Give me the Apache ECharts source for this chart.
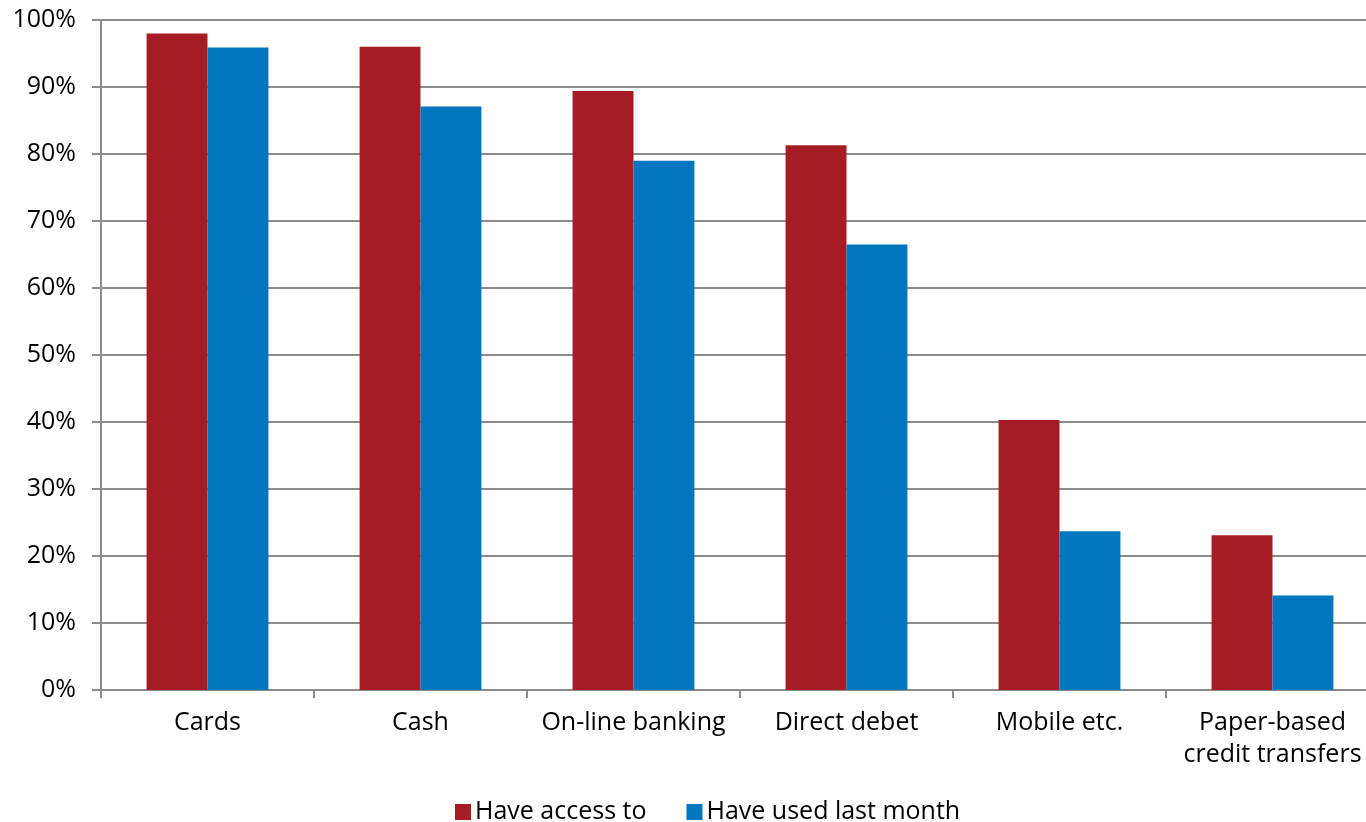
<!DOCTYPE html>
<html><head><meta charset="utf-8">
<script src="https://cdn.jsdelivr.net/npm/echarts@6/dist/echarts.min.js"></script>
<style>html,body{margin:0;padding:0;background:#fff}#c{width:1366px;height:822px}</style>
</head><body><div id="c"></div>
<script>
const categories = ['Cards', 'Cash', 'On-line banking', 'Direct debet', 'Mobile etc.', 'Paper-based\ncredit transfers'];
const haveAccess = [98, 96, 89.4, 81.3, 40.3, 23.1];
const usedLastMonth = [95.9, 87.1, 79, 66.5, 23.7, 14.1];
const seriesNames = ['Have access to', 'Have used last month'];
const FONT = '"Open Sans", "Noto Sans", sans-serif';
const chart = echarts.init(document.getElementById('c'));
chart.setOption({
  animation: false,
  textStyle: { fontFamily: FONT },
  grid: { left: 101, width: 1278, top: 20, height: 670, containLabel: false, outerBoundsMode: 'none' },
  legend: {
    top: 793, left: 450, itemWidth: 16, itemHeight: 16, itemGap: 40,
    icon: 'rect',
    textStyle: { fontSize: 25, color: '#000', fontFamily: FONT, padding: [0, 0, 0, -1], lineHeight: 28 },
    data: seriesNames
  },
  xAxis: {
    type: 'category', data: categories,
    axisLine: { lineStyle: { color: '#8c8c8c', width: 2 } },
    axisTick: { show: true, length: 8, lineStyle: { color: '#8c8c8c', width: 2 } },
    axisLabel: { fontSize: 25, color: '#000', margin: 17, lineHeight: 32, fontFamily: FONT, interval: 0 }
  },
  yAxis: {
    type: 'value', min: 0, max: 100, interval: 10,
    axisLine: { show: true, lineStyle: { color: '#8c8c8c', width: 2 } },
    axisTick: { show: true, length: 9, lineStyle: { color: '#8c8c8c', width: 2 } },
    splitLine: { lineStyle: { color: '#8c8c8c', width: 2 } },
    axisLabel: { formatter: '{value}%', fontSize: 25, color: '#000', margin: 25, fontFamily: FONT }
  },
  series: [
    { name: seriesNames[0], type: 'bar', data: haveAccess, barWidth: '28.6%', barGap: '0%',
      itemStyle: { color: '#A51C24' } },
    { name: seriesNames[1], type: 'bar', data: usedLastMonth, barWidth: '28.6%',
      itemStyle: { color: '#0076BE' } }
  ]
});
</script></body></html>
